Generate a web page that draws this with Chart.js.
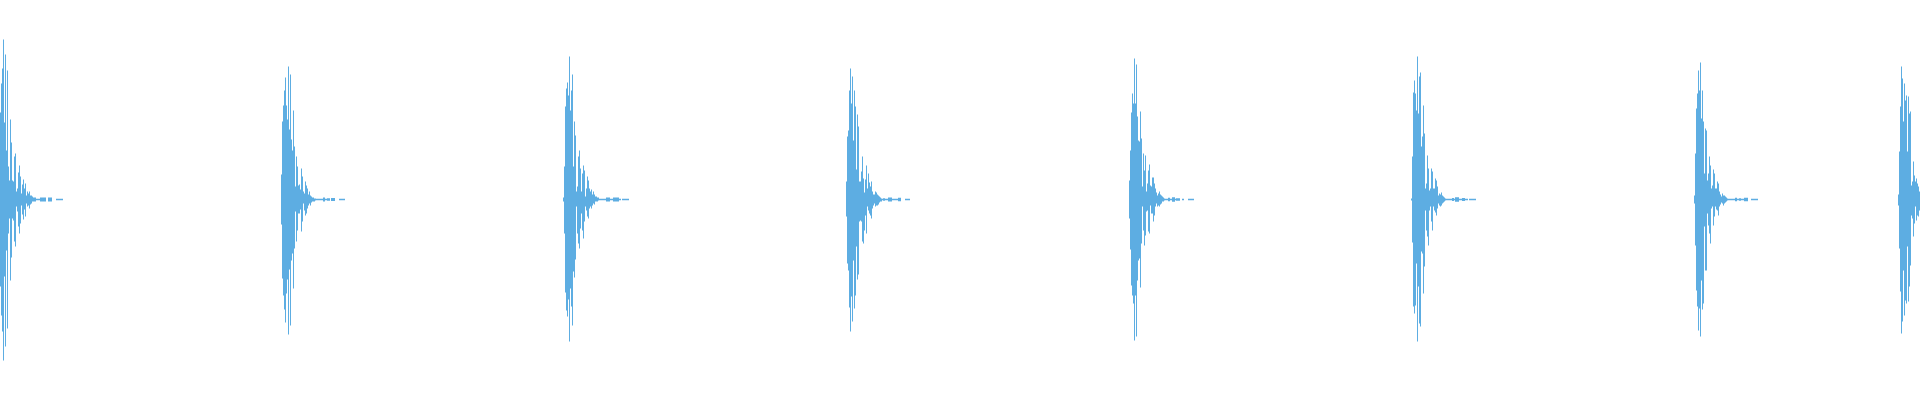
<!DOCTYPE html>
<html>
<head>
<meta charset="utf-8">
<script src="https://cdn.jsdelivr.net/npm/chart.js@4.4.1/dist/chart.umd.min.js"></script>
<style>
  html, body { margin: 0; padding: 0; background: #fff; }
  .wave { position: relative; width: 1920px; height: 400px; }
</style>
</head>
<body>
<div class="wave"><canvas id="waveChart"></canvas></div>
<script>
// sample column where each burst begins
const starts = [0, 281, 563, 846, 1129, 1411, 1694, 1898];

// peak amplitude above / below zero for each column of a burst
const up1 = [87,116,131,160,77,145,49,129,33,19,80,57,19,18,43,46,8,11,27,34,23,6,15,20,11,16,4,8,6,8,4,4,3,2,2,2];
const dn1 = [87,116,132,161,77,147,51,129,34,19,81,58,19,21,42,47,7,12,27,34,24,6,15,20,10,17,4,7,6,9,5,4,2,2,2,2];
const up2 = [25,78,94,109,122,94,80,133,70,125,60,49,89,53,13,43,33,14,15,10,31,23,8,6,18,14,11,5,8,4,3,2,2,1,1];
const dn2 = [25,79,96,110,123,94,80,135,70,126,61,54,89,49,12,42,31,14,14,10,32,22,4,11,16,14,9,6,4,6,3,2,2,2,1];
const up3 = [2,33,93,111,117,104,143,89,109,125,33,78,64,8,13,43,49,31,8,26,34,29,3,11,23,19,11,8,10,5,8,5,3,3,2,2];
const dn3 = [2,34,93,111,117,100,142,89,107,126,72,78,60,7,34,44,49,29,14,31,39,22,7,11,17,19,9,7,9,6,4,5,2,2,2,1];
const up4 = [18,63,69,109,131,96,123,59,109,93,30,85,73,18,18,28,43,21,7,20,34,11,26,17,13,18,8,5,5,8,7,5,4,3,2,1];
const dn4 = [17,64,71,108,132,97,122,61,109,96,47,80,75,22,21,22,42,44,31,16,34,7,11,14,16,19,9,6,4,7,6,6,5,3,2,2];
const up5 = [19,49,87,106,96,141,96,135,83,59,58,88,61,13,46,29,44,8,16,29,35,14,13,22,22,16,11,7,4,6,8,5,4,3,2,1];
const dn5 = [19,50,86,96,104,141,96,137,81,61,59,88,44,7,31,46,36,12,11,32,34,6,14,14,22,16,7,4,7,6,7,5,4,2,2,1];
const up6 = [1,43,107,119,106,89,143,86,123,127,53,63,94,66,11,16,44,31,9,11,31,28,11,11,21,19,13,4,6,5,7,4,3,2,1];
const dn6 = [1,43,107,114,106,64,142,87,124,127,52,54,94,67,11,31,37,46,11,7,22,31,7,11,13,16,9,4,6,7,6,4,3,2,1];
const up7 = [4,46,91,106,129,109,137,81,109,78,26,71,69,19,26,43,34,11,14,30,26,11,11,18,16,8,5,3,6,4,4,3,2,1];
const dn7 = [4,46,91,107,131,109,137,81,110,104,27,71,71,14,26,34,44,9,7,26,17,7,10,11,16,7,5,3,4,6,4,3,2,1];
const up8 = [5,48,93,133,121,78,116,99,104,48,103,86,88,14,18,38,24,18,21,16,13,8];
const dn8 = [6,49,92,134,122,71,116,101,104,47,102,87,66,16,19,37,24,7,21,16,17,11];

// faint ringing after each burst (0 = silent)
const tail1 = [.7,.7,.7,.7,2,2,2,2,2,2,0,0,2,2,2,2,0,0,0,0,.7,.7,.7,.7,.7,.7,.7];
const tail2 = [.7,.7,.7,.7,.7,.7,.7,2,2,.7,.7,1.2,1.2,1.2,0,1.5,1.5,1.5,1.5,0,0,0,0,.7,.7,.7,.7,.7,.7];
const tail3 = [.7,.7,.7,.7,.7,.7,.7,2,2,2,2,.7,.7,.7,2,2,2,2,2,2,.7,.7,0,.7,.7,.7,.7,.7,.7,.7];
const tail4 = [.7,1.3,1.3,.7,.7,.7,2,2,2,2,.7,.7,.7,.7,.7,.7,1.7,1.7,1.7,0,0,0,0,.7,.7,.7,.7,.7];
const tail5 = [.7,.7,.7,1.7,1.7,.7,.7,2.3,2.3,2.3,.7,1.3,1.3,1.3,1.3,0,0,.7,.7,0,0,0,0,.7,.7,.7,.7,.7,.7];
const tail6 = [.7,.7,.7,.7,.7,.7,1.5,1.5,.7,2.3,2.3,2.3,2.3,.7,.7,.7,1.5,1.5,1.5,.7,.7,.7,0,.7,.7,.7,.7,.7,.7,.7];
const tail7 = [.7,.7,.7,.7,.7,.7,.7,1.7,1.7,.7,.7,1.3,1.3,.7,.7,.7,1.7,1.7,1.7,1.7,0,0,0,.7,.7,.7,.7,.7,.7,.7];
const tail8 = [];

const ups = [up1, up2, up3, up4, up5, up6, up7, up8];
const dns = [dn1, dn2, dn3, dn4, dn5, dn6, dn7, dn8];
const tails = [tail1, tail2, tail3, tail4, tail5, tail6, tail7, tail8];

const width = 1920;
const labels = [];
const columns = [];
for (let i = 0; i < width; i++) {
  labels.push(i);
  columns.push(null);
}

starts.forEach((s, b) => {
  const up = ups[b].concat(tails[b]);
  const dn = dns[b].concat(tails[b]);
  up.forEach((v, k) => {
    const x = s + k;
    if (x < 0 || x >= width || !v) return;
    columns[x] = [-dn[k], v];
  });
});

const ctx = document.getElementById('waveChart');
new Chart(ctx, {
  type: 'bar',
  data: {
    labels: labels,
    datasets: [{
      data: columns,
      backgroundColor: '#5dade2',
      borderWidth: 0,
      inflateAmount: 0,
      barPercentage: 1,
      categoryPercentage: 1
    }]
  },
  options: {
    responsive: true,
    maintainAspectRatio: false,
    animation: false,
    layout: { padding: 0 },
    plugins: { legend: { display: false }, tooltip: { enabled: false } },
    scales: {
      x: { display: false },
      y: { display: false, min: -200.5, max: 199.5 }
    }
  }
});
</script>
</body>
</html>
